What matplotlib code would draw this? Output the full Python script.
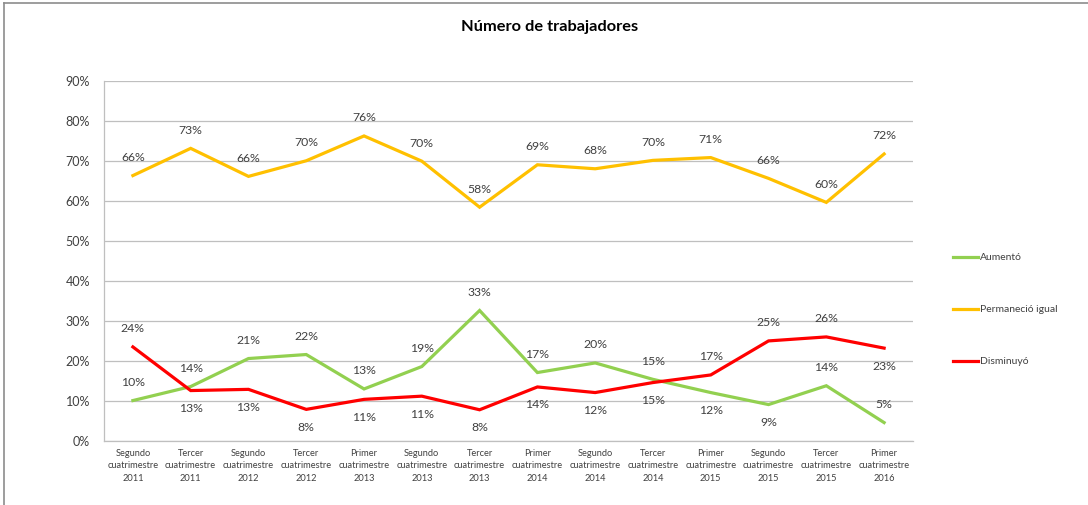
import matplotlib
matplotlib.use("Agg")
import matplotlib.pyplot as plt
from matplotlib.lines import Line2D
from matplotlib.ticker import FuncFormatter, MultipleLocator

plt.rcParams['font.family'] = ['Lato', 'DejaVu Sans']

categories = [
    "Segundo\ncuatrimestre\n2011", "Tercer\ncuatrimestre\n2011",
    "Segundo\ncuatrimestre\n2012", "Tercer\ncuatrimestre\n2012",
    "Primer\ncuatrimestre\n2013", "Segundo\ncuatrimestre\n2013",
    "Tercer\ncuatrimestre\n2013", "Primer\ncuatrimestre\n2014",
    "Segundo\ncuatrimestre\n2014", "Tercer\ncuatrimestre\n2014",
    "Primer\ncuatrimestre\n2015", "Segundo\ncuatrimestre\n2015",
    "Tercer\ncuatrimestre\n2015", "Primer\ncuatrimestre\n2016",
]

aumento = [10.1, 13.6, 20.6, 21.6, 13.0, 18.6, 32.6, 17.1, 19.5, 15.4, 12.1, 9.1, 13.8, 4.6]
permanecio = [66.3, 73.1, 66.1, 70.0, 76.2, 69.9, 58.4, 69.0, 68.0, 70.1, 70.8, 65.6, 59.6, 71.7]
disminuyo = [23.5, 12.6, 12.9, 7.9, 10.4, 11.2, 7.8, 13.5, 12.1, 14.6, 16.5, 25.0, 26.0, 23.2]

aumento_lbl = [10, 14, 21, 22, 13, 19, 33, 17, 20, 15, 12, 9, 14, 5]
permanecio_lbl = [66, 73, 66, 70, 76, 70, 58, 69, 68, 70, 71, 66, 60, 72]
disminuyo_lbl = [24, 13, 13, 8, 11, 11, 8, 14, 12, 15, 17, 25, 26, 23]
# label placement: +1 above, -1 below
aumento_side = [1, 1, 1, 1, 1, 1, 1, 1, 1, 1, -1, -1, 1, 1]
permanecio_side = [1] * 14
disminuyo_side = [1, -1, -1, -1, -1, -1, -1, -1, -1, -1, 1, 1, 1, -1]

series_names = ["Aumentó", "Permaneció igual", "Disminuyó"]
colors = ["#92D050", "#FFC000", "#FF0000"]

fig = plt.figure(figsize=(10.88, 5.05), dpi=100)
ax = fig.add_axes([104/1088, 1-441/505, (913-104)/1088, (441-80.7)/505])

x = list(range(len(categories)))
txtcol = "#404040"
for vals, lbls, col, sides in [
    (aumento, aumento_lbl, colors[0], aumento_side),
    (permanecio, permanecio_lbl, colors[1], permanecio_side),
    (disminuyo, disminuyo_lbl, colors[2], disminuyo_side),
]:
    ax.plot(x, vals, color=col, lw=2.3, solid_joinstyle='miter', zorder=3)
    for xi, v, l, s in zip(x, vals, lbls, sides):
        ax.annotate(f"{l}%", (xi, v), textcoords='offset pixels',
                    xytext=(0, 18*s), ha='center', va='center',
                    fontsize=8.8, color=txtcol, zorder=4)

ax.set_xlim(-0.5, len(categories)-0.5)
ax.set_ylim(0, 90)
ax.yaxis.set_major_locator(MultipleLocator(10))
ax.yaxis.set_major_formatter(FuncFormatter(lambda v, p: f"{v:.0f}%"))
ax.set_xticks(x)
ax.set_xticklabels(categories, fontsize=6.7, color=txtcol, linespacing=1.45)
ax.tick_params(axis='y', labelsize=9, labelcolor=txtcol, length=0, pad=10)
ax.tick_params(axis='x', length=0, pad=6)
ax.grid(axis='y', color='#BFBFBF', lw=0.9, zorder=0)
for sp in ['top', 'right']:
    ax.spines[sp].set_visible(False)
ax.spines['left'].set_color('#BFBFBF')
ax.spines['bottom'].set_color('#BFBFBF')
ax.spines['left'].set_linewidth(0.9)
ax.spines['bottom'].set_linewidth(0.9)

fig.text(550/1088, 1-27/505, "Número de trabajadores", ha='center', va='center',
         fontsize=11.8, fontweight='bold', color='#000000')

# legend
leg_y = [257, 309, 361]
for name, col, yy in zip(series_names, colors, leg_y):
    fig.add_artist(Line2D([953/1088, 978/1088], [1-yy/505, 1-yy/505],
                          color=col, lw=2.3, transform=fig.transFigure))
    fig.text(980/1088, 1-yy/505, name, ha='left', va='center',
             fontsize=7.5, color=txtcol)

# outer frame (left and top edges visible)
fig.add_artist(Line2D([4/1088, 4/1088], [0, 1-3/505], color='#8C8C8C', lw=1.2,
                      transform=fig.transFigure))
fig.add_artist(Line2D([4/1088, 1], [1-3/505, 1-3/505], color='#8C8C8C', lw=1.2,
                      transform=fig.transFigure))

fig.savefig("out.png", dpi=100)
